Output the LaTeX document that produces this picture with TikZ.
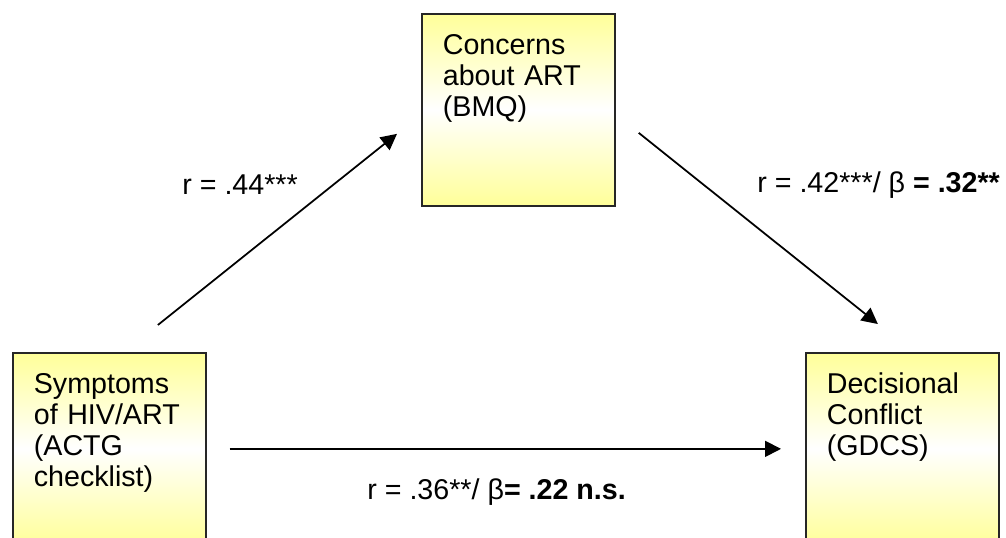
\documentclass[tikz,border=0pt]{standalone}
\usepackage{fontspec}
\setmainfont{Liberation Sans}
\usepackage{tikz}
\usetikzlibrary{arrows.meta, positioning}
\definecolor{boxYellow}{RGB}{255,255,153}
\tikzset{
  varbox/.style={rectangle, draw=black!85, line width=1pt, anchor=north west,
                 top color=boxYellow, bottom color=boxYellow, middle color=white,
                 inner xsep=0.42cm, inner ysep=0.4cm, text width=3.02cm, align=left,
                 text height=0.41cm, text depth=2.63cm, minimum width=3.86cm,
                 minimum height=3.84cm, font=\fontsize{16.3}{17.6}\selectfont},
  coeff/.style={anchor=west, inner sep=0pt, font=\fontsize{16.3}{17.6}\selectfont},
  link/.style={line width=1pt, -{Triangle[length=0.32cm, width=0.32cm]}}
}

\begin{document}
\begin{tikzpicture}[x=0.02cm, y=-0.02cm]
\useasboundingbox (0,0) rectangle (1006,537);
\clip (0,0) rectangle (1006,537);

% the three measures
\node[varbox] (concerns) at (421,13)  {Concerns about ART (BMQ)};
\node[varbox] (symptoms) at (12,352)  {Symptoms of HIV/ART (ACTG checklist)};
\node[varbox] (conflict) at (805,352) {Decisional Conflict (GDCS)};

% paths
\draw[link] ([shift={(48.5,-27)}]symptoms.north) -- ([shift={(-24,24)}]concerns.west);
\draw[link] ([shift={(23,23)}]concerns.east) -- ([shift={(-24.5,-28)}]conflict.north);
\draw[link] ([xshift=0.46cm]symptoms.east) -- ([xshift=-0.48cm]conflict.west);

% coefficients
\node[coeff] (pathA) at (182,185) {r = .44***};
\node[coeff] (pathB) at (757,185) {r = .42***/ β \textbf{= .32**}};
\node[coeff] (pathC) at (367,492) {r = .36**/ β\textbf{= .22 n.s.}};
\end{tikzpicture}
\end{document}
